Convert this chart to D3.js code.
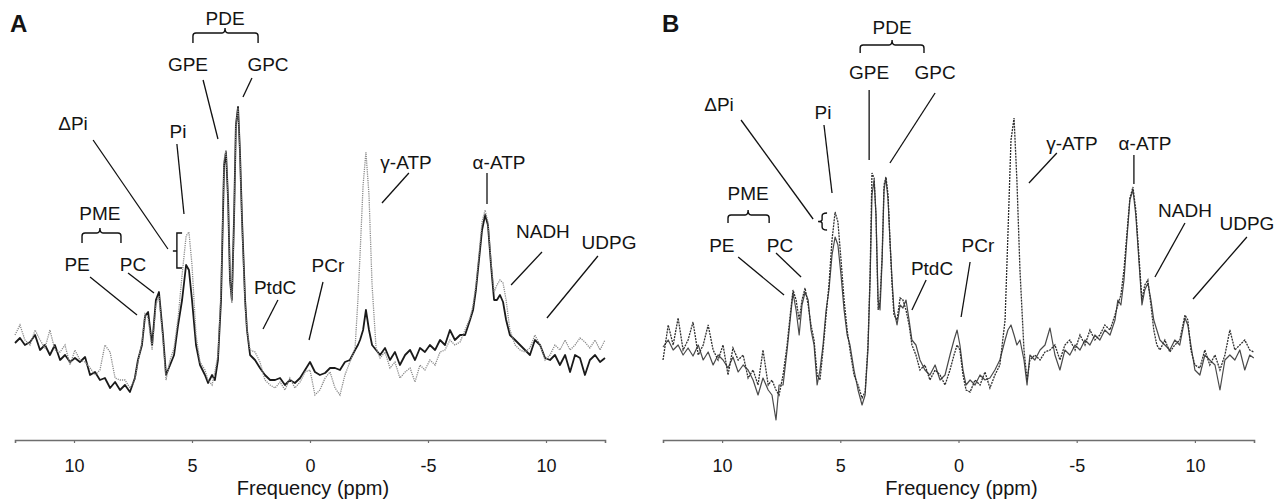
<!DOCTYPE html>
<html><head><meta charset="utf-8">
<script src="https://cdn.jsdelivr.net/npm/d3@7/dist/d3.min.js"></script>
<style>
html,body{margin:0;padding:0;background:#fff;}
svg text{font-family:"Liberation Sans",Arial,Helvetica,sans-serif;fill:#141414;}
</style></head>
<body><svg id="c" width="1285" height="500"></svg>
<script>
// ---------- DATA ----------
const tickValues = [10, 5, 0, -5, -10];
const tickLabels = ["10", "5", "0", "-5", "10"];
const axisTitle = "Frequency (ppm)";
const panelLetters = ["A", "B"];

// Panel A: chemical shift (ppm) and intensities (a.u.)
const ppmA = [12.50,12.29,12.08,11.86,11.65,11.44,11.23,11.02,10.81,10.59,10.38,10.17,9.96,9.75,9.53,9.32,9.11,8.90,8.69,8.47,8.26,8.05,7.84,7.63,7.42,7.29,7.12,6.99,6.86,6.69,6.53,6.40,6.23,6.10,5.93,5.76,5.59,5.42,5.25,5.13,5.00,4.83,4.66,4.45,4.32,4.15,4.03,3.90,3.77,3.64,3.56,3.47,3.39,3.31,3.22,3.14,3.05,2.97,2.88,2.75,2.67,2.54,2.33,2.12,1.91,1.69,1.48,1.27,1.06,0.85,0.64,0.42,0.21,0.00,-0.21,-0.42,-0.64,-0.85,-1.06,-1.27,-1.48,-1.69,-1.91,-2.03,-2.12,-2.25,-2.37,-2.50,-2.63,-2.80,-2.97,-3.18,-3.39,-3.60,-3.81,-4.03,-4.24,-4.45,-4.66,-4.87,-5.08,-5.30,-5.51,-5.72,-5.93,-6.14,-6.36,-6.57,-6.78,-6.91,-7.03,-7.16,-7.29,-7.42,-7.54,-7.67,-7.80,-7.92,-8.05,-8.18,-8.31,-8.47,-8.69,-8.90,-9.11,-9.32,-9.53,-9.75,-9.96,-10.17,-10.38,-10.59,-10.81,-11.02,-11.23,-11.44,-11.65,-11.86,-12.08,-12.29,-12.50];
const solidA = [97,102,95,98,105,90,95,85,95,80,85,78,82,78,83,65,68,60,62,52,58,50,55,48,62,80,95,124,128,95,140,148,105,65,75,85,115,140,175,170,140,95,75,65,57,65,60,80,140,275,288,240,160,140,220,315,333,290,220,140,110,85,80,72,65,60,60,62,55,60,57,62,70,78,68,65,67,72,72,70,78,80,90,95,100,110,130,110,95,90,85,92,80,88,75,85,90,80,92,88,95,90,100,95,110,100,105,105,120,130,150,180,210,225,215,175,140,140,145,138,120,105,100,95,90,85,100,95,82,80,85,75,85,68,85,82,65,80,85,78,82];
const dottedA = [105,115,100,95,110,100,92,110,90,88,95,75,90,80,78,72,65,70,95,88,62,60,60,52,60,78,98,126,122,90,135,144,100,60,80,92,122,165,204,208,175,105,78,70,60,55,68,85,150,280,290,240,162,137,215,315,332,288,215,135,110,90,88,78,60,55,52,58,50,62,52,58,68,70,45,50,62,68,52,45,65,78,92,140,185,255,288,245,155,92,82,88,72,78,62,68,72,58,75,70,80,75,88,90,100,95,98,110,122,135,155,185,218,230,218,178,148,155,160,157,140,110,95,90,88,92,105,95,80,85,95,90,100,90,95,102,98,92,100,90,100];

// Panel B
const ppmB = [12.50,12.28,12.07,11.86,11.65,11.44,11.23,11.01,10.80,10.59,10.38,10.17,9.96,9.75,9.54,9.32,9.11,8.90,8.69,8.48,8.27,8.05,7.89,7.72,7.59,7.42,7.25,7.12,7.00,6.87,6.74,6.62,6.49,6.36,6.24,6.11,5.98,5.86,5.73,5.60,5.48,5.35,5.22,5.10,4.97,4.84,4.71,4.59,4.42,4.25,4.08,3.95,3.83,3.74,3.66,3.57,3.49,3.40,3.32,3.23,3.15,3.07,2.98,2.90,2.81,2.73,2.60,2.47,2.35,2.22,2.09,1.97,1.80,1.63,1.42,1.21,0.99,0.78,0.57,0.36,0.19,0.06,-0.06,-0.19,-0.32,-0.49,-0.70,-0.91,-1.12,-1.33,-1.54,-1.75,-1.97,-2.09,-2.22,-2.35,-2.47,-2.60,-2.77,-2.90,-3.02,-3.23,-3.45,-3.66,-3.87,-4.08,-4.29,-4.50,-4.71,-4.93,-5.14,-5.35,-5.56,-5.77,-5.98,-6.19,-6.41,-6.62,-6.74,-6.87,-7.00,-7.12,-7.25,-7.38,-7.50,-7.63,-7.76,-7.88,-8.01,-8.14,-8.26,-8.39,-8.52,-8.73,-8.94,-9.15,-9.36,-9.58,-9.70,-9.83,-10.00,-10.21,-10.42,-10.63,-10.85,-11.06,-11.27,-11.48,-11.69,-11.90,-12.11,-12.32,-12.49];
const solidB = [93,100,90,95,85,92,84,95,80,88,75,85,80,72,83,68,75,70,60,45,62,50,45,20,55,55,90,120,147,130,105,135,148,140,110,95,55,70,95,130,150,185,203,195,165,130,105,95,70,50,35,45,90,160,245,260,225,140,130,180,250,262,240,200,160,130,115,135,132,140,120,100,95,80,70,65,75,60,65,85,100,110,95,70,55,60,55,65,60,62,70,80,100,110,115,105,95,100,80,55,85,80,90,95,112,85,70,90,85,95,90,100,95,105,100,110,105,120,140,135,160,200,240,250,225,180,135,150,157,140,120,110,100,95,90,100,95,122,115,95,70,65,85,80,75,50,80,85,80,90,70,85,82];
const dottedB = [80,115,95,122,90,100,118,85,95,115,90,80,95,65,92,80,85,62,70,55,90,55,60,50,45,65,95,125,150,140,120,140,152,135,115,100,65,60,90,125,155,200,228,218,180,140,110,90,65,55,42,48,95,165,267,262,225,130,140,185,255,263,245,200,155,125,120,142,140,130,115,95,85,70,75,60,70,65,55,70,85,95,90,65,50,48,60,55,68,52,65,75,120,205,300,322,260,170,90,60,80,85,80,88,90,95,80,95,100,90,105,95,110,100,105,115,110,125,135,145,170,205,242,253,230,185,140,155,160,135,110,95,90,100,88,95,100,125,120,90,75,72,90,75,85,70,85,110,90,95,100,90,88];

// Annotation labels [text, ppm, intensity] and leader lines [ppm1, int1, ppm2, int2]
const labelsA = [["PDE",3.60,422],["GPE",5.17,376],["GPC",1.78,376],["ΔPi",10.04,317],["Pi",5.59,309],["PME",8.90,227],["PE",9.87,176],["PC",7.50,176],["PtdC",1.48,153],["PCr",-0.76,175],["γ-ATP",-4.07,278],["α-ATP",-8.01,278],["NADH",-9.87,209],["UDPG",-12.67,198]];
const leadersA = [[4.53,360,3.90,301],[2.46,362,2.84,343],[9.19,300,6.02,191],[5.64,296,5.34,226],[9.32,163,7.33,125],[7.71,167,6.61,147],[1.36,140,1.99,111],[-0.55,158,0.04,100],[-4.19,267,-3.05,237],[-7.50,267,-7.50,236],[-9.83,188,-8.52,155],[-12.20,184,-10.04,122]];
const labelsB = [["PDE",2.81,413],["GPE",3.78,368],["GPC",0.99,368],["ΔPi",10.13,336],["Pi",5.73,328],["PME",8.90,247],["PE",10.01,195],["PC",7.55,195],["PtdC",1.12,172],["PCr",-0.82,195],["γ-ATP",-4.80,297],["α-ATP",-7.89,297],["NADH",-9.58,230],["UDPG",-12.20,217]];
const leadersB = [[3.78,350,3.78,280],[0.99,347,2.90,277],[9.20,320,6.15,221],[5.69,315,5.35,247],[9.32,183,7.38,145],[7.72,187,6.66,163],[1.37,160,1.97,130],[-0.49,178,-0.11,123],[-4.16,287,-2.98,257],[-7.42,285,-7.42,256],[-9.58,217,-8.31,163],[-12.20,203,-9.92,141]];

// ---------- DRAW ----------
const svg = d3.select("#c");
const yScale = d3.scaleLinear().domain([0, 400]).range([440, 40]);

const panels = [
  {letter: panelLetters[0], letterX: 10, range: [15, 605], ppm: ppmA, solid: solidA, dotted: dottedA, labels: labelsA, leaders: leadersA,
   solidStyle: {c: "#1a1a1a", w: 1.8, d: null}, dotStyle: {c: "#8a8a8a", w: 1.3, d: "1.2,1"},
   brackets: [{x1:4.96, x2:2.20, xm:3.60, y:407, yLeg:397, yTip:412},
              {x1:9.66, x2:8.01, xm:8.90, y:207, yLeg:197, yTip:212}],
   pibr: {x:5.64, xr:5.42, xt:5.81, y1:207, y2:172, ym:189}},
  {letter: panelLetters[1], letterX: 662, range: [663, 1254], ppm: ppmB, solid: solidB, dotted: dottedB, labels: labelsB, leaders: leadersB,
   solidStyle: {c: "#4a4a4a", w: 1.2, d: null}, dotStyle: {c: "#2e2e2e", w: 1.3, d: "2,1"},
   brackets: [{x1:4.16, x2:1.46, xm:2.81, y:395, yLeg:387, yTip:400},
              {x1:9.75, x2:8.01, xm:8.90, y:225, yLeg:217, yTip:230}],
   brace: {x:5.77, xt:5.94, xr:5.56, y1:227, y2:210}}
];

panels.forEach((p) => {
  const g = svg.append("g");
  const x = d3.scaleLinear().domain([12.5, -12.5]).range(p.range);

  // axis
  const ax = g.append("g").attr("transform", `translate(0,${yScale(0)})`)
    .call(d3.axisBottom(x).tickValues(tickValues).tickSizeOuter(0).tickSize(3).tickPadding(16)
      .tickFormat((d, i) => tickLabels[i]));
  ax.select(".domain").attr("stroke", "#6e6e6e").attr("stroke-width", 1.6);
  ax.selectAll(".tick line").attr("stroke", "#6e6e6e").attr("stroke-width", 1.2);
  ax.selectAll(".tick text").style("font-size", "18px").style("font-family", '"Liberation Sans",Arial,sans-serif').attr("fill", "#141414");

  g.append("text").attr("x", (p.range[0] + p.range[1]) / 2 + 3).attr("y", 495)
    .attr("text-anchor", "middle").style("font-size", "20px").text(axisTitle);

  // traces
  const mk = (vals) => d3.line().x((d, i) => x(p.ppm[i])).y(d => yScale(d))(vals);
  g.append("path").attr("d", mk(p.solid)).attr("fill", "none")
    .attr("stroke", p.solidStyle.c).attr("stroke-width", p.solidStyle.w).attr("stroke-linejoin", "round");
  g.append("path").attr("d", mk(p.dotted)).attr("fill", "none")
    .attr("stroke", p.dotStyle.c).attr("stroke-width", p.dotStyle.w).attr("stroke-dasharray", p.dotStyle.d);

  // leaders
  g.selectAll("line.lead").data(p.leaders).enter().append("line")
    .attr("x1", d => x(d[0])).attr("y1", d => yScale(d[1]))
    .attr("x2", d => x(d[2])).attr("y2", d => yScale(d[3]))
    .attr("stroke", "#111").attr("stroke-width", 1.3);

  // labels
  g.selectAll("text.lab").data(p.labels).enter().append("text")
    .attr("x", d => x(d[1])).attr("y", d => yScale(d[2])).attr("dy", "0.36em")
    .attr("text-anchor", "middle").style("font-size", "19px").text(d => d[0]);

  // curly brackets
  p.brackets.forEach(b => {
    const x1 = x(b.x1), x2 = x(b.x2), xm = x(b.xm), y = yScale(b.y), yl = yScale(b.yLeg), yt = yScale(b.yTip);
    const r = 3;
    const path = `M${x1},${yl} L${x1},${y + r} Q${x1},${y} ${x1 + r},${y} L${xm - r},${y} Q${xm},${y} ${xm},${yt} Q${xm},${y} ${xm + r},${y} L${x2 - r},${y} Q${x2},${y} ${x2},${y + r} L${x2},${yl}`;
    g.append("path").attr("d", path).attr("fill", "none").attr("stroke", "#111").attr("stroke-width", 1.4);
  });

  if (p.pibr) {
    const b = p.pibr;
    const xv = x(b.x), xr = x(b.xr), xt = x(b.xt), y1 = yScale(b.y1), y2 = yScale(b.y2), ym = yScale(b.ym);
    g.append("path").attr("d", `M${xr},${y1} L${xv},${y1} L${xv},${y2} L${xr},${y2} M${xv},${ym} L${xt},${ym}`)
      .attr("fill", "none").attr("stroke", "#111").attr("stroke-width", 1.4);
  }
  if (p.brace) {
    const b = p.brace;
    const xv = x(b.x), xr = x(b.xr), xt = x(b.xt), y1 = yScale(b.y1), y2 = yScale(b.y2), ym = (y1 + y2) / 2;
    g.append("path").attr("d", `M${xr},${y1} Q${xv},${y1} ${xv},${y1 + 3} L${xv},${ym - 2} Q${xv},${ym} ${xt},${ym} Q${xv},${ym} ${xv},${ym + 2} L${xv},${y2 - 3} Q${xv},${y2} ${xr},${y2}`)
      .attr("fill", "none").attr("stroke", "#111").attr("stroke-width", 1.4);
  }

  // panel letter
  g.append("text").attr("x", p.letterX).attr("y", 32)
    .style("font-size", "24px").style("font-weight", "bold").text(p.letter);
});
</script></body></html>
